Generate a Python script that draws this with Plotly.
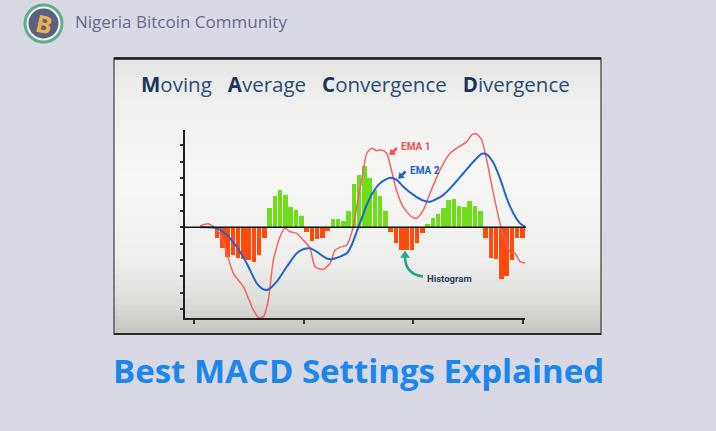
import math
import plotly.graph_objects as go

# ---------------- data ----------------
# histogram bars: one per period index 0..58
hist_values = [
    -0.64, -1.29, -1.84, -1.72, -1.88, -1.96, -2.00, -2.15, -1.72, -0.67,
    1.16, 1.88, 2.25, 1.96, 1.23, 1.08, 0.69,
    -0.29, -0.82, -0.74, -0.66, -0.25,
    0.50, 0.50, 0.37, 0.99, 2.65, 3.19, 3.72, 3.00, 2.30, 1.88, 1.00,
    -0.29, -0.94, -1.41, -1.41, -1.37, -0.94, -0.32,
    0.23, 0.57, 0.84, 1.15, 1.66, 1.70, 1.29, 1.25, 1.61, 1.29, 1.00,
    -0.64, -1.87, -1.95, -3.14, -2.99, -2.00, -0.67, -0.64,
]
hist_periods = list(range(len(hist_values)))

ema1_x = [-3.23, -2.47, -1.65, -0.70, 0.57, 1.84, 3.10, 5.00, 6.90, 7.85, 8.80, 9.75,
          10.70, 11.97, 12.92, 13.87, 15.14, 16.39, 17.67, 18.62, 20.19, 21.47, 22.42,
          23.37, 24.64, 25.89, 26.84, 27.49, 28.44, 29.37, 30.34, 31.27, 32.22, 33.13,
          34.08, 35.33, 36.93, 37.94, 39.19, 40.46, 42.36, 44.26, 45.54, 47.44, 48.38,
          49.33, 50.28, 51.23, 52.49, 53.76, 54.71, 55.66, 56.61, 57.56, 58.70]
ema1_y = [0.08, 0.17, 0.22, 0.04, -0.37, -1.59, -2.81, -3.63, -5.05, -5.50, -5.46, -4.44,
          -2.00, -0.57, -0.06, -0.27, -0.37, -0.78, -1.28, -2.41, -2.57, -2.20, -1.39,
          -1.22, -1.08, 0.04, 1.87, 2.89, 4.52, 4.83, 4.68, 4.72, 4.52, 3.50,
          2.28, 1.26, 0.65, 0.55, 1.06, 2.08, 3.50, 4.52, 4.83, 5.23, 5.64,
          5.70, 5.33, 4.11, 2.08, 0.24, -0.78, -1.49, -1.59, -2.10, -2.20]

ema2_x = [-3.23, -0.06, 1.84, 3.74, 5.64, 7.54, 8.55, 9.56, 11.34, 13.24, 15.14, 16.39,
          17.67, 18.92, 20.84, 21.79, 23.37, 24.64, 25.59, 26.54, 27.49, 28.44, 29.69,
          30.97, 32.86, 34.14, 35.40, 37.30, 39.19, 40.46, 41.73, 43.00, 44.89, 46.79,
          48.69, 50.28, 51.23, 52.49, 53.76, 55.04, 56.29, 57.56, 58.70]
ema2_y = [0.00, -0.04, -0.47, -1.19, -2.20, -3.42, -3.74, -3.83, -3.32, -2.41, -1.59, -1.34,
          -1.28, -1.49, -1.91, -1.95, -1.79, -1.59, -1.08, -0.27, 0.55, 1.36, 2.17,
          2.69, 3.03, 2.89, 2.48, 1.98, 1.63, 1.56, 1.73, 1.98, 2.59, 3.30,
          4.00, 4.49, 4.45, 3.94, 2.99, 1.77, 0.86, 0.24, 0.00]

chart_title = ["M", "oving", "A", "verage", "C", "onvergence", "D", "ivergence"]
brand_text = "Nigeria Bitcoin Community"
headline = "Best MACD Settings Explained"
label_ema1 = "EMA 1"
label_ema2 = "EMA 2"
label_hist = "Histogram"

# ---------------- layout helpers (pixel -> paper) ----------------
W, H = 716, 431
PL, PR, PT, PB = 185, 525, 130, 318


def px(x):
    return (x - PL) / (PR - PL)


def py(y):
    return (PB - y) / (PB - PT)


def pt(x, y):
    return "%f,%f" % (px(x), py(y))


fig = go.Figure()

bar_colors = ["#6fdc1c" if v >= 0 else "#ff4a0c" for v in hist_values]
fig.add_trace(go.Bar(x=hist_periods, y=hist_values, marker=dict(color=bar_colors, line=dict(width=0)),
                     width=0.86, showlegend=False, hoverinfo="skip"))
fig.add_trace(go.Scatter(x=ema1_x, y=ema1_y, mode="lines",
                         line=dict(color="#f06464", width=1.5, shape="spline", smoothing=0.6),
                         showlegend=False, hoverinfo="skip"))
fig.add_trace(go.Scatter(x=ema2_x, y=ema2_y, mode="lines",
                         line=dict(color="#2463cc", width=2, shape="spline", smoothing=0.6),
                         showlegend=False, hoverinfo="skip"))

shapes = []
# framed picture box with vertical gradient
stops = [(58, (228, 228, 226)), (100, (239, 239, 237)), (180, (246, 246, 244)),
         (260, (238, 238, 236)), (300, (222, 222, 219)), (334, (196, 196, 192))]
nb = 46
for i in range(nb):
    y0 = 58 + (334 - 58) * i / nb
    y1 = 58 + (334 - 58) * (i + 1) / nb
    ym = (y0 + y1) / 2
    for (a, ca), (b, cb) in zip(stops[:-1], stops[1:]):
        if a <= ym <= b:
            t = (ym - a) / (b - a)
            c = tuple(int(round(ca[k] + (cb[k] - ca[k]) * t)) for k in range(3))
            break
    shapes.append(dict(type="rect", xref="paper", yref="paper", layer="below",
                       x0=px(114), x1=px(601), y0=py(y1 + 0.5), y1=py(y0),
                       fillcolor="rgb(%d,%d,%d)" % c, line=dict(width=0)))
shapes.append(dict(type="rect", xref="paper", yref="paper", layer="below",
                   x0=px(114), x1=px(601), y0=py(334.5), y1=py(58),
                   fillcolor="rgba(0,0,0,0)", line=dict(color="#3a3a3a", width=1.2)))
shapes.append(dict(type="line", xref="paper", yref="paper", layer="below",
                   x0=px(114), x1=px(601), y0=py(58.5), y1=py(58.5),
                   line=dict(color="#1a1a1a", width=2.5)))
shapes.append(dict(type="line", xref="paper", yref="paper", layer="below",
                   x0=px(114), x1=px(601), y0=py(334), y1=py(334),
                   line=dict(color="#2a2a2a", width=2)))
# zero line extending slightly left of the axis
shapes.append(dict(type="line", xref="paper", yref="y", x0=px(181.5), x1=px(526), y0=0, y1=0,
                   line=dict(color="#111111", width=1.6)))


def arrow(tail, tip, col, length, half, width, curve_ctrl=None):
    """shaft (straight or quadratic) + filled triangular head, all in pixel space"""
    if curve_ctrl is None:
        dx, dy = tip[0] - tail[0], tip[1] - tail[1]
    else:
        dx, dy = tip[0] - curve_ctrl[0], tip[1] - curve_ctrl[1]
    n = math.hypot(dx, dy)
    ux, uy = dx / n, dy / n
    bx, by = tip[0] - ux * length, tip[1] - uy * length
    if curve_ctrl is None:
        path = "M %s L %s" % (pt(*tail), pt(bx + ux, by + uy))
    else:
        path = "M %s Q %s %s" % (pt(*tail), pt(*curve_ctrl), pt(bx + ux, by + uy))
    shapes.append(dict(type="path", xref="paper", yref="paper", path=path,
                       line=dict(color=col, width=width)))
    lx, ly = bx - uy * half, by + ux * half
    rx, ry = bx + uy * half, by - ux * half
    shapes.append(dict(type="path", xref="paper", yref="paper",
                       path="M %s L %s L %s Z" % (pt(*tip), pt(lx, ly), pt(rx, ry)),
                       fillcolor=col, line=dict(color=col, width=0.5)))


arrow((397, 148), (389.5, 155), "#ee5050", 5, 3.6, 2.6)
arrow((405.5, 171.5), (398.5, 178.5), "#1f5fc8", 5, 3.6, 2.6)
arrow((423, 276.5), (405, 251), "#25a88a", 6.5, 4.5, 2.6, curve_ctrl=(405, 274))

# logo
shapes.append(dict(type="circle", xref="paper", yref="paper", x0=px(25), x1=px(62), y0=py(42), y1=py(5),
                   fillcolor="#f2f2f2", line=dict(color="#5fae8a", width=3)))
shapes.append(dict(type="circle", xref="paper", yref="paper", x0=px(28.5), x1=px(58.5), y0=py(38.5), y1=py(8.5),
                   fillcolor="#5d6181", line=dict(width=0)))

annotations = []
gap = "\u00a0\u00a0\u00a0"
title_html = "".join(
    ("<b><span style='color:#1b365d'>%s</span></b>" % s if i % 2 == 0
     else s + (gap if i < len(chart_title) - 1 else ""))
    for i, s in enumerate(chart_title))
annotations.append(dict(xref="paper", yref="paper", x=px(139), y=py(84), xanchor="left", yanchor="middle",
                        text=title_html, showarrow=False,
                        font=dict(family="Open Sans", size=20.5, color="#2c4c73")))
annotations.append(dict(xref="paper", yref="paper", x=px(73), y=py(22), xanchor="left", yanchor="middle",
                        text=brand_text, showarrow=False,
                        font=dict(family="Open Sans", size=17, color="#676b8c")))
annotations.append(dict(xref="paper", yref="paper", x=px(43.5), y=py(23.5), xanchor="center", yanchor="middle",
                        text="<b>B</b>", showarrow=False, textangle=12,
                        font=dict(family="Open Sans", size=24, color="#e9b44c")))
annotations.append(dict(xref="paper", yref="paper", x=px(358), y=py(370), xanchor="center", yanchor="middle",
                        text="<b>%s</b>" % headline, showarrow=False,
                        font=dict(family="Open Sans", size=33, color="#1a86ee")))
annotations.append(dict(xref="paper", yref="paper", x=px(399), y=py(146), xanchor="left", yanchor="middle",
                        text="<b>%s</b>" % label_ema1, showarrow=False,
                        font=dict(family="Roboto", size=10, color="#ee5050")))
annotations.append(dict(xref="paper", yref="paper", x=px(408), y=py(170), xanchor="left", yanchor="middle",
                        text="<b>%s</b>" % label_ema2, showarrow=False,
                        font=dict(family="Roboto", size=10, color="#1f5fc8")))
annotations.append(dict(xref="paper", yref="paper", x=px(425), y=py(278.5), xanchor="left", yanchor="middle",
                        text="<b>%s</b>" % label_hist, showarrow=False,
                        font=dict(family="Roboto", size=9.5, color="#2a3f66")))

fig.update_layout(
    width=W, height=H,
    margin=dict(l=PL, r=W - PR, t=PT, b=H - PB, pad=0),
    paper_bgcolor="#d9d9e6", plot_bgcolor="rgba(0,0,0,0)",
    bargap=0, shapes=shapes, annotations=annotations,
    xaxis=dict(range=[-6.08, 58.5], showgrid=False, zeroline=False, showline=True,
               linecolor="#222222", linewidth=2, ticks="outside", ticklen=4, tickwidth=1.5,
               tickcolor="#333333", tick0=-4.37, dtick=20.84, showticklabels=False, fixedrange=True),
    yaxis=dict(range=[-5.54, 5.94], showgrid=False, zeroline=False, showline=True,
               linecolor="#222222", linewidth=2, ticks="outside", ticklen=3.5, tickwidth=1.5,
               tickcolor="#333333", tick0=0, dtick=1, showticklabels=False, fixedrange=True),
)

fig.write_html("out.html", config={"displayModeBar": False},
               post_script="document.body.style.margin='0';document.body.style.overflow='hidden';")
